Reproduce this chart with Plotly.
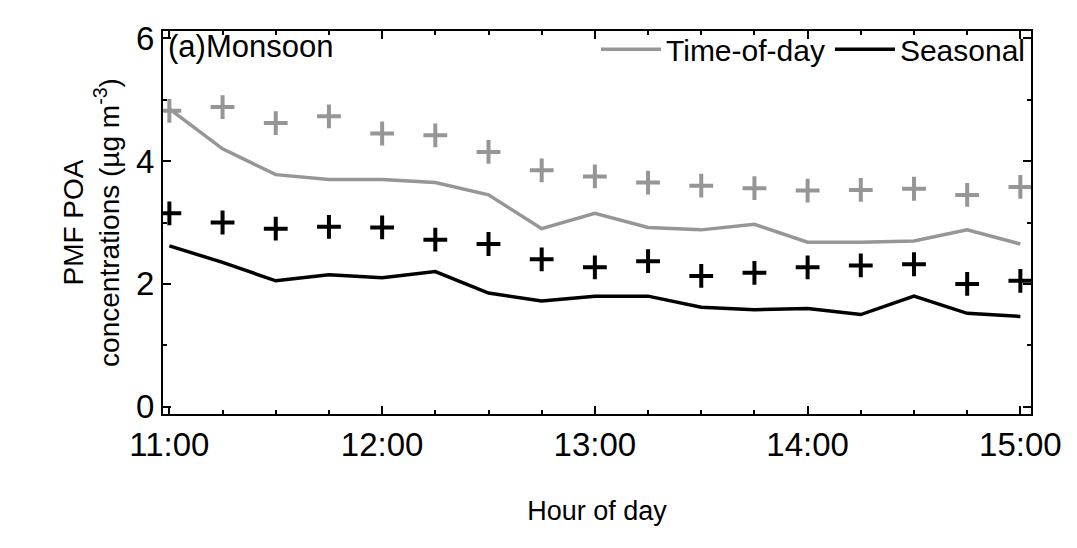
import plotly.graph_objects as go

hours = [11 + i * 0.25 for i in range(17)]
tick_vals = [11, 12, 13, 14, 15]
tick_text = ["11:00", "12:00", "13:00", "14:00", "15:00"]
tod_line = [4.85, 4.2, 3.78, 3.7, 3.7, 3.65, 3.45, 2.9, 3.15, 2.92, 2.88, 2.97, 2.68, 2.68, 2.7, 2.88, 2.65]
tod_plus = [4.82, 4.88, 4.62, 4.73, 4.45, 4.42, 4.15, 3.85, 3.75, 3.65, 3.6, 3.56, 3.52, 3.53, 3.55, 3.45, 3.58]
sea_line = [2.62, 2.35, 2.05, 2.15, 2.1, 2.2, 1.85, 1.72, 1.8, 1.8, 1.62, 1.58, 1.6, 1.5, 1.8, 1.52, 1.47]
sea_plus = [3.15, 3.0, 2.9, 2.93, 2.92, 2.72, 2.65, 2.4, 2.27, 2.37, 2.13, 2.18, 2.27, 2.3, 2.32, 2.0, 2.05]

gray = "#969696"
fig = go.Figure()
fig.add_trace(go.Scatter(x=hours, y=tod_line, mode="lines", line=dict(color=gray, width=3.5), name="Time-of-day"))
fig.add_trace(go.Scatter(x=hours, y=sea_line, mode="lines", line=dict(color="black", width=3.5), name="Seasonal"))
fig.add_trace(go.Scatter(x=hours, y=tod_plus, mode="markers", showlegend=False,
                         marker=dict(symbol="cross-thin", size=17, line=dict(color=gray, width=4))))
fig.add_trace(go.Scatter(x=hours, y=sea_plus, mode="markers", showlegend=False,
                         marker=dict(symbol="cross-thin", size=17, line=dict(color="black", width=4))))

fig.add_annotation(x=0.003, y=1.01, xref="paper", yref="paper", text="(a)Monsoon", showarrow=False,
                   xanchor="left", yanchor="top", font=dict(size=31, color="black"))

axis_common = dict(showgrid=False, zeroline=False, showline=True, linecolor="black", linewidth=2,
                   mirror="ticks", ticks="inside", tickwidth=2, tickcolor="black",
                   tickfont=dict(size=33, color="black"))
fig.update_xaxes(range=[10.97, 15.05], tickvals=tick_vals, ticktext=tick_text, ticklen=8,
                 title=dict(text="Hour of day", font=dict(size=27, color="black"), standoff=40),
                 minor=dict(dtick=0.25, ticks="inside", ticklen=4, tickcolor="black", tickwidth=2), **axis_common)
fig.update_yaxes(range=[-0.12, 6.12], tickvals=[0, 2, 4, 6], ticklen=8,
                 title=dict(text="PMF POA<br>concentrations (µg m<sup>-3</sup>)", font=dict(size=28, color="black"), standoff=8),
                 minor=dict(dtick=1, ticks="inside", ticklen=4, tickcolor="black", tickwidth=2), **axis_common)
fig.update_layout(width=1077, height=548, plot_bgcolor="white", paper_bgcolor="white",
                  font=dict(family="Liberation Sans, Arial", color="black"),
                  margin=dict(l=155, r=54, t=12, b=142),
                  legend=dict(orientation="h", x=1.0, y=1.02, xanchor="right", yanchor="top",
                              bgcolor="rgba(0,0,0,0)", font=dict(size=30), itemwidth=60))
fig.write_html("out.html")
